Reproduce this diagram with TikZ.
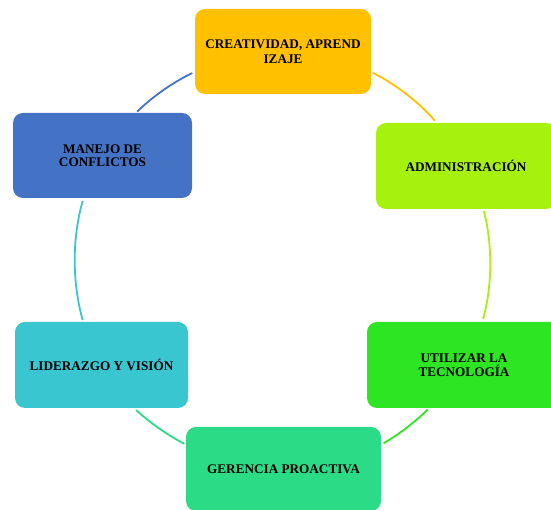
\documentclass[tikz,border=0pt]{standalone}
\usepackage{fontspec}
\setmainfont{Liberation Serif}
\definecolor{cgold}{HTML}{FFC000}
\definecolor{clime}{HTML}{A6F20E}
\definecolor{cgreen}{HTML}{2EE523}
\definecolor{cmint}{HTML}{2BDB85}
\definecolor{ccyan}{HTML}{3AC6D0}
\definecolor{cblue}{HTML}{4472C4}
\begin{document}
\begin{tikzpicture}[x=1pt,y=1pt,
  box/.style={rounded corners=10pt, inner sep=0pt, outer sep=0pt, align=center,
    font=\fontsize{13.2}{13.5}\selectfont\bfseries, text=black},
  ln/.style={line width=1.8pt, bend left=#1, looseness=0.85, shorten <=2pt, shorten >=3pt}]
\useasboundingbox (0,0) rectangle (551,510);
\clip (0,0) rectangle (551,510);
\node[box, fill=cgold, minimum width=176pt, minimum height=85pt, font=\fontsize{13.2}{15}\selectfont\bfseries] (n1) at (283,458.5) {CREATIVIDAD, APREND\\IZAJE};
\node[box, fill=clime, minimum width=180pt, minimum height=86pt] (n2) at (466,344) {ADMINISTRACIÓN};
\node[box, fill=cgreen, minimum width=194pt, minimum height=86pt] (n3) at (464,145) {UTILIZAR LA\\TECNOLOGÍA};
\node[box, fill=cmint, minimum width=195pt, minimum height=84pt] (n4) at (283.5,41) {GERENCIA PROACTIVA};
\node[box, fill=ccyan, minimum width=173pt, minimum height=86pt] (n5) at (101.5,145) {LIDERAZGO Y VISIÓN};
\node[box, fill=cblue, minimum width=179pt, minimum height=85pt] (n6) at (102.5,354.5) {MANEJO DE\\CONFLICTOS};
\draw[ln=11, cgold] (n1.-13) to (n2.124);
\draw[ln=15, clime] (n2.-68.6) to (n3.67.6);
\draw[ln=7.6, cgreen] (n3.231) to (n4.14.6);
\draw[ln=7.6, cmint] (n4.166) to (n5.-53);
\draw[ln=16, ccyan] (n5.113) to (n6.246.7);
\draw[ln=9.4, cblue] (n6.52.2) to (n1.193.4);
\end{tikzpicture}
\end{document}
